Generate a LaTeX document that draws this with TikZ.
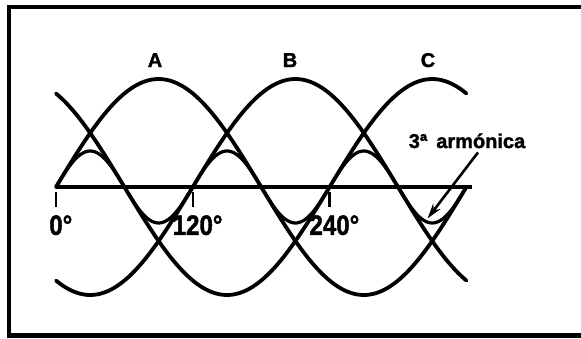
\documentclass[tikz,border=0pt]{standalone}
\usepackage{fontspec}
\setmainfont{Liberation Sans}
\newfontfamily\heavyfont[BoldFeatures={FakeBold=1.6}]{Liberation Sans}
\usetikzlibrary{arrows.meta}
\begin{document}
\begin{tikzpicture}[
  x=1pt, y=-1pt,
  wave/.style={line width=3.8pt, line cap=round},
  harm/.style={line width=3.2pt, line cap=round, line join=round},
  axisline/.style={line width=3.4pt},
  tick/.style={line width=2.6pt},
  lbl/.style={font=\heavyfont\bfseries\fontsize{20}{20}\selectfont, inner sep=0pt},
  deg/.style={font=\heavyfont\bfseries\fontsize{28}{28}\selectfont, inner sep=0pt},
  arr/.style={-{Stealth[length=15pt, width=9pt]}, line width=2.6pt}
]
\useasboundingbox (0,0) rectangle (581,338);
% frame (right side falls off the page)
\draw[line width=4.5pt] (584,7) -- (9,7) -- (9,335.5) -- (584,335.5);

% phase labels
\node[lbl, anchor=base] (labA) at (155,67) {A};
\node[lbl, anchor=base] (labB) at (290,67) {B};
\node[lbl, anchor=base] (labC) at (428,67) {C};

\begin{scope}[shift={(56,187)}, x=1.14pt, y=108pt]
  \coordinate (o) at (0,0);
  \coordinate (e) at (365,0);
  \draw[axisline] (o) -- (e);
  % the three phases
  \draw[wave] plot[domain=0:360, samples=120, smooth] (\x, {sin(\x)});
  \draw[wave] plot[domain=0:360, samples=120, smooth] (\x, {sin(\x-120)});
  \draw[wave] plot[domain=0:360, samples=120, smooth] (\x, {sin(\x+120)});
  % third harmonic
  \draw[harm] plot[domain=0:360, samples=180, smooth] (\x, {sin(3*\x)/3});
  % degree marks
  \foreach \a in {0,120,240} {
    \draw[tick] (\a,-0.05) -- (\a,-0.185);
    \node[deg, anchor=north] (d\a) at (\a,-0.26) {\scalebox{0.86}[1]{\a\rlap{°}}};
  }
  \coordinate (dip) at (326,-0.29);
\end{scope}

\node[lbl, anchor=base] (harmlbl) at (467,148) {3ª\hspace{9pt}armónica};
\draw[arr] ([xshift=11pt, yshift=-4pt]harmlbl.south) -- (dip);
\end{tikzpicture}
\end{document}
